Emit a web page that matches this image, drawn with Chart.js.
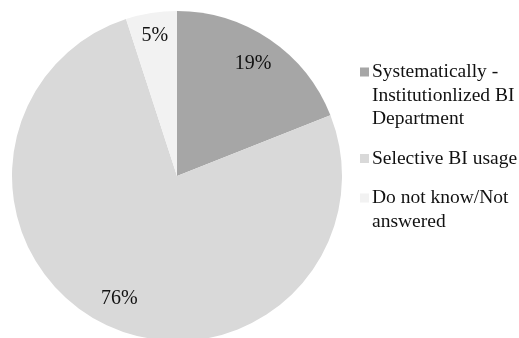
<!DOCTYPE html>
<html>
<head>
<meta charset="utf-8">
<script src="https://cdn.jsdelivr.net/npm/chart.js@4/dist/chart.umd.min.js"></script>
<style>
html,body{margin:0;padding:0;background:#fff;}
#wrap{width:519px;height:338px;overflow:hidden;position:relative;}
</style>
</head>
<body>
<div id="wrap"><canvas id="c" width="519" height="342"></canvas></div>
<script>
// Data
const categories = [
  ['Systematically -', 'Institutionlized BI', 'Department'],
  ['Selective BI usage'],
  ['Do not know/Not', 'answered']
];
const values = [19, 76, 5];
const valueLabels = ['19%', '76%', '5%'];
const sliceColors = ['#a6a6a6', '#d9d9d9', '#f2f2f2'];

const FONT = '"Liberation Serif", "Times New Roman", serif';

const pctLabels = {
  id: 'pctLabels',
  afterDatasetsDraw(chart) {
    const ctx = chart.ctx;
    const meta = chart.getDatasetMeta(0);
    ctx.save();
    ctx.font = '20px ' + FONT;
    ctx.fillStyle = '#111';
    ctx.textAlign = 'center';
    ctx.textBaseline = 'middle';
    meta.data.forEach((arc, i) => {
      const p = arc.getProps(['x', 'y', 'startAngle', 'endAngle', 'outerRadius'], true);
      const mid = (p.startAngle + p.endAngle) / 2;
      const f = values[i] < 10 ? 0.86 : 0.82;
      const x = p.x + Math.cos(mid) * p.outerRadius * f;
      const y = p.y + Math.sin(mid) * p.outerRadius * f;
      ctx.fillText(valueLabels[i], x, y);
    });
    ctx.restore();
  }
};

const sideLegend = {
  id: 'sideLegend',
  afterDraw(chart) {
    const ctx = chart.ctx;
    const labels = chart.data.labels;
    const colors = chart.data.datasets[0].backgroundColor;
    const x0 = 360, tx = 372, lineH = 23.5, gap = 16;
    let y = 72;
    ctx.save();
    ctx.font = '19.5px ' + FONT;
    ctx.fillStyle = '#111';
    ctx.textBaseline = 'middle';
    ctx.textAlign = 'left';
    labels.forEach((lines, i) => {
      ctx.fillStyle = colors[i];
      ctx.fillRect(x0, y - 4.5, 9, 9);
      ctx.fillStyle = '#111';
      lines.forEach((ln, j) => {
        ctx.fillText(ln, tx, y + j * lineH);
      });
      y += lines.length * lineH + gap;
    });
    ctx.restore();
  }
};

new Chart(document.getElementById('c'), {
  type: 'pie',
  data: {
    labels: categories,
    datasets: [{
      data: values,
      backgroundColor: sliceColors,
      borderWidth: 0
    }]
  },
  options: {
    responsive: false,
    animation: false,
    layout: { padding: { left: 12, top: 11, right: 177, bottom: 1 } },
    plugins: { legend: { display: false }, tooltip: { enabled: false } }
  },
  plugins: [pctLabels, sideLegend]
});
</script>
</body>
</html>
